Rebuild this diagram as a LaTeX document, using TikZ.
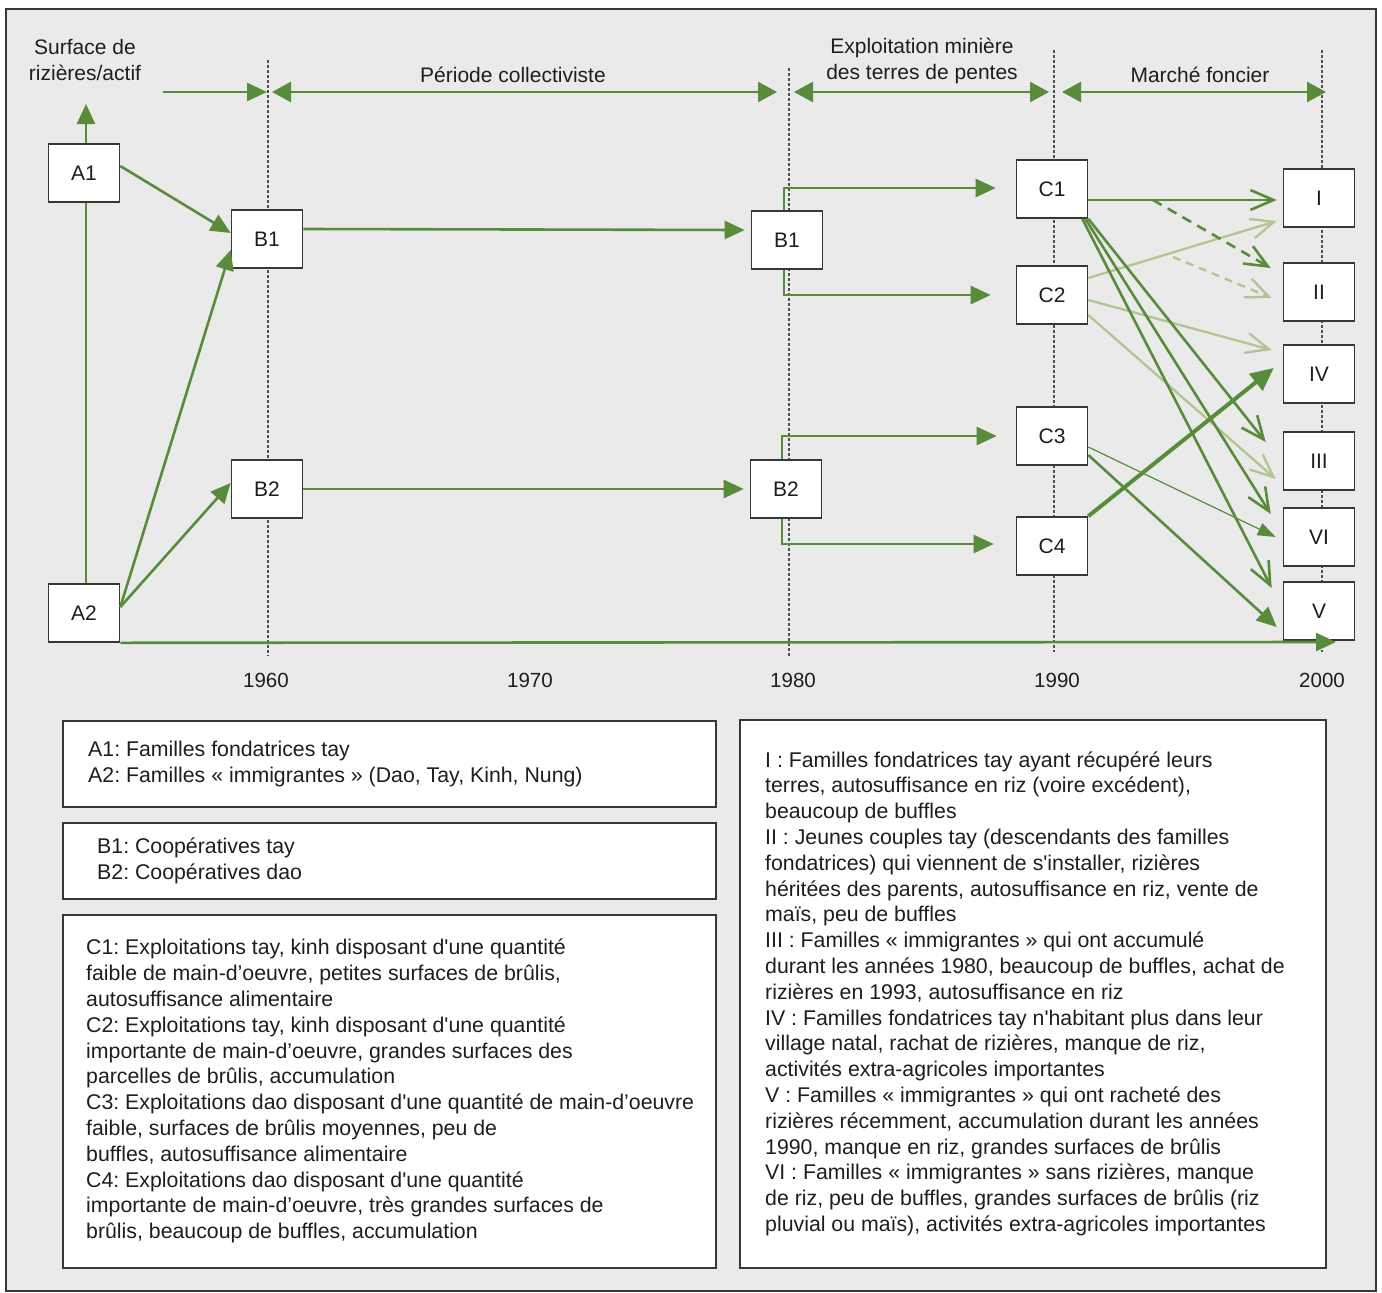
\documentclass[tikz,border=0pt]{standalone}
\usepackage{fontspec}
\setmainfont{Liberation Sans}[Ligatures=TeXOff]
\usetikzlibrary{arrows.meta,calc}
\definecolor{dgreen}{RGB}{88,140,58}
\definecolor{lgreen}{RGB}{176,198,146}
\definecolor{bggray}{RGB}{234,234,234}
\definecolor{edge}{RGB}{55,55,55}
\definecolor{txt}{RGB}{30,30,30}
\definecolor{dotc}{RGB}{80,80,80}
\begin{document}
\frenchspacing
\begin{tikzpicture}[x=1pt,y=-1pt,
  box/.style={draw=edge, line width=1.6pt, fill=white, minimum width=71pt, minimum height=58pt, inner sep=0pt, font=\fontsize{21}{24}\selectfont, text=txt},
  legbox/.style={draw=edge, line width=1.5pt, fill=white, anchor=north west, inner sep=0pt},
  legtext/.style={align=left, anchor=west, inner sep=0pt, font=\fontsize{21.3}{25.8}\selectfont\frenchspacing, text=txt},
  lbl/.style={align=center, inner sep=0pt, font=\fontsize{21}{26}\selectfont, text=txt},
  year/.style={inner sep=0pt, font=\fontsize{20.5}{24}\selectfont, text=txt},
  timeline/.style={dotc, line width=2.4pt, dash pattern=on 2.5pt off 2.5pt},
  dark/.style={dgreen, line width=2.6pt},
  light/.style={lgreen, line width=2.3pt},
  fillhead/.style={-{Triangle[length=20pt,width=18pt]}},
  bothheads/.style={{Triangle[length=19pt,width=20pt]}-{Triangle[length=19pt,width=20pt]}},
  openhead/.style={-{Straight Barb[length=23pt,width=20pt]}},
]
\useasboundingbox (0,0) rectangle (1382,1293);
\fill[white] (0,0) rectangle (1382,1293);
\draw[edge, line width=1.5pt, fill=bggray] (6,9) rectangle (1376,1291);

% timeline markers
\coordinate (t60a) at (268,60);  \coordinate (t60b) at (268,656);
\coordinate (t80a) at (789,68);  \coordinate (t80b) at (789,656);
\coordinate (t90a) at (1054,50); \coordinate (t90b) at (1054,652);
\coordinate (t00a) at (1322,50); \coordinate (t00b) at (1322,652);
\draw[timeline] (t60a) -- (t60b);
\draw[timeline] (t80a) -- (t80b);
\draw[timeline] (t90a) -- (t90b);
\draw[timeline] (t00a) -- (t00b);

% header labels
\node[lbl] (ylab) at (85,60) {Surface de\\rizières/actif};
\node[lbl] (p1) at (513,75) {Période collectiviste};
\node[lbl] (p2) at (922,61) {Exploitation minière\\des terres de pentes};
\node[lbl] (p3) at (1200,75) {Marché foncier};

% header arrows
\coordinate (h0) at (163,92);
\coordinate (h60) at (268,92);
\coordinate (h80) at (789,92);
\coordinate (h90) at (1054,92);
\coordinate (h00) at (1322,92);
\draw[dark, fillhead] (h0) -- ([xshift=-1pt]h60);
\draw[dark, bothheads] ([xshift=4pt]h60) -- ([xshift=-12pt]h80);
\draw[dark, bothheads] ([xshift=5pt]h80) -- ([xshift=-5pt]h90);
\draw[dark, bothheads] ([xshift=8pt]h90) -- ([xshift=4pt]h00);

% years
\node[year] (y60) at (266,680) {1960};
\node[year] (y70) at (530,680) {1970};
\node[year] (y80) at (793,680) {1980};
\node[year] (y90) at (1057,680) {1990};
\node[year] (y00) at (1322,680) {2000};

% nodes
\node[box] (A1) at (84,173) {A1};
\node[box] (A2) at (84,613) {A2};
\node[box] (B1) at (267,239) {B1};
\node[box] (B2) at (267,489) {B2};
\node[box] (B1r) at (787,240) {B1};
\node[box] (B2r) at (786,489) {B2};
\node[box] (C1) at (1052,189) {C1};
\node[box] (C2) at (1052,295) {C2};
\node[box] (C3) at (1052,436) {C3};
\node[box] (C4) at (1052,546) {C4};
\node[box] (R1) at (1319,198) {I};
\node[box] (R2) at (1319,292) {II};
\node[box] (R4) at (1319,374) {IV};
\node[box] (R3) at (1319,461) {III};
\node[box] (R6) at (1319,537) {VI};
\node[box] (R5) at (1319,611) {V};

% axes
\coordinate (ytip) at (86,104);
\coordinate (xtip) at (1336,642);
\draw[dark] ([xshift=2pt]A2.north) -- ([xshift=2pt]A1.south);
\draw[dark, fillhead] ([xshift=2pt]A1.north) -- (ytip);
\draw[dark, fillhead] (A2.south east) -- (xtip);

% A -> B
\draw[dark, fillhead] ([yshift=7pt]A1.east) -- ([yshift=6pt]B1.west);
\draw[dark, fillhead] ([yshift=6pt]A2.east) -- ([yshift=-11pt]B1.west);
\draw[dark, fillhead] ([yshift=6pt]A2.east) -- ([yshift=6pt]B2.west);
% B -> B
\draw[dark, fillhead] ([yshift=10pt]B1.east) -- ([xshift=-6pt,yshift=10pt]B1r.west);
\draw[dark, fillhead] (B2.east) -- ([xshift=-6pt]B2r.west);
% B -> C
\draw[dark, fillhead] ([xshift=-3pt]B1r.north) |- ([xshift=-20pt,yshift=1pt]C1.west);
\draw[dark, fillhead] ([xshift=-3pt]B1r.south) |- ([xshift=-25pt]C2.west);
\draw[dark, fillhead] ([xshift=-4pt]B2r.north) |- ([xshift=-19pt]C3.west);
\draw[dark, fillhead] ([xshift=-4pt]B2r.south) |- ([xshift=-22pt,yshift=2pt]C4.west);

% C -> roman : light
\coordinate (d1) at (1153,200);
\coordinate (d2) at (1173,257);
\draw[light, openhead] ([yshift=17pt]C2.east) -- ([xshift=-6pt,yshift=-23pt]R1.west);
\draw[light, openhead, dash pattern=on 8pt off 6pt] (d2) -- ([xshift=-11pt,yshift=-6pt]R2.west);
\draw[light, openhead] ([yshift=-5pt]C2.east) -- ([xshift=-11pt,yshift=24pt]R4.west);
\draw[light, openhead] ([yshift=-20pt]C2.east) -- ([xshift=-7pt,yshift=-18pt]R3.west);
% C -> roman : dark
\draw[dark, openhead] ([yshift=-11pt]C1.east) -- ([xshift=-6pt,yshift=-2pt]R1.west);
\draw[dark, openhead, dash pattern=on 10pt off 7pt] (d1) -- ([xshift=-12pt,yshift=24pt]R2.west);
\draw[dark, openhead] (C1.south east) -- ([xshift=-17pt,yshift=19pt]R3.west);
\draw[dark, openhead] ([xshift=-3pt]C1.south east) -- ([xshift=-12pt,yshift=23pt]R6.west);
\draw[dark, openhead] ([xshift=-6pt]C1.south east) -- ([xshift=-11pt,yshift=23pt]R5.west);
\draw[dgreen, line width=1.2pt, -{Triangle[length=18pt,width=13pt]}] ([yshift=-11pt]C3.east) -- ([xshift=-7pt]R6.west);
\draw[dark, fillhead] ([yshift=-19pt]C3.east) -- ([xshift=-6pt,yshift=-16pt]R5.west);
\draw[dgreen, line width=4pt, -{Triangle[length=23pt,width=21pt]}] (C4.north east) -- ([xshift=-9pt,yshift=6pt]R4.west);

% legends
\node[legbox, minimum width=653pt, minimum height=86pt] (L1) at (62,720) {};
\node[legtext] (T1) at ([xshift=26pt]L1.west) {A1: Familles fondatrices tay\\A2: Familles «~immigrantes~» (Dao, Tay, Kinh, Nung)};
\node[legbox, minimum width=653pt, minimum height=76pt] (L2) at (62,822) {};
\node[legtext] (T2) at ([xshift=35pt]L2.west) {B1: Coopératives tay\\B2: Coopératives dao};
\node[legbox, minimum width=653pt, minimum height=353pt] (L3) at (62,914) {};
\node[legtext] (T3) at ([xshift=24pt]L3.west) {C1: Exploitations tay, kinh disposant d'une quantité\\
faible de main-d’oeuvre, petites surfaces de brûlis,\\
autosuffisance alimentaire\\
C2: Exploitations tay, kinh disposant d'une quantité\\
importante de main-d’oeuvre, grandes surfaces des\\
parcelles de brûlis, accumulation\\
C3: Exploitations dao disposant d'une quantité de main-d’oeuvre\\
faible, surfaces de brûlis moyennes, peu de\\
buffles, autosuffisance alimentaire\\
C4: Exploitations dao disposant d'une quantité\\
importante de main-d’oeuvre, très grandes surfaces de\\
brûlis, beaucoup de buffles, accumulation};
\node[legbox, minimum width=586pt, minimum height=548pt] (L4) at (739,719) {};
\node[legtext] (T4) at ([xshift=26pt]L4.west) {I : Familles fondatrices tay ayant récupéré leurs\\
terres, autosuffisance en riz (voire excédent),\\
beaucoup de buffles\\
II : Jeunes couples tay (descendants des familles\\
fondatrices) qui viennent de s'installer, rizières\\
héritées des parents, autosuffisance en riz, vente de\\
maïs, peu de buffles\\
III : Familles «~immigrantes~» qui ont accumulé\\
durant les années 1980, beaucoup de buffles, achat de\\
rizières en 1993, autosuffisance en riz\\
IV : Familles fondatrices tay n'habitant plus dans leur\\
village natal, rachat de rizières, manque de riz,\\
activités extra-agricoles importantes\\
V : Familles «~immigrantes~» qui ont racheté des\\
rizières récemment, accumulation durant les années\\
1990, manque en riz, grandes surfaces de brûlis\\
VI : Familles «~immigrantes~» sans rizières, manque\\
de riz, peu de buffles, grandes surfaces de brûlis (riz\\
pluvial ou maïs), activités extra-agricoles importantes};
\end{tikzpicture}
\end{document}
